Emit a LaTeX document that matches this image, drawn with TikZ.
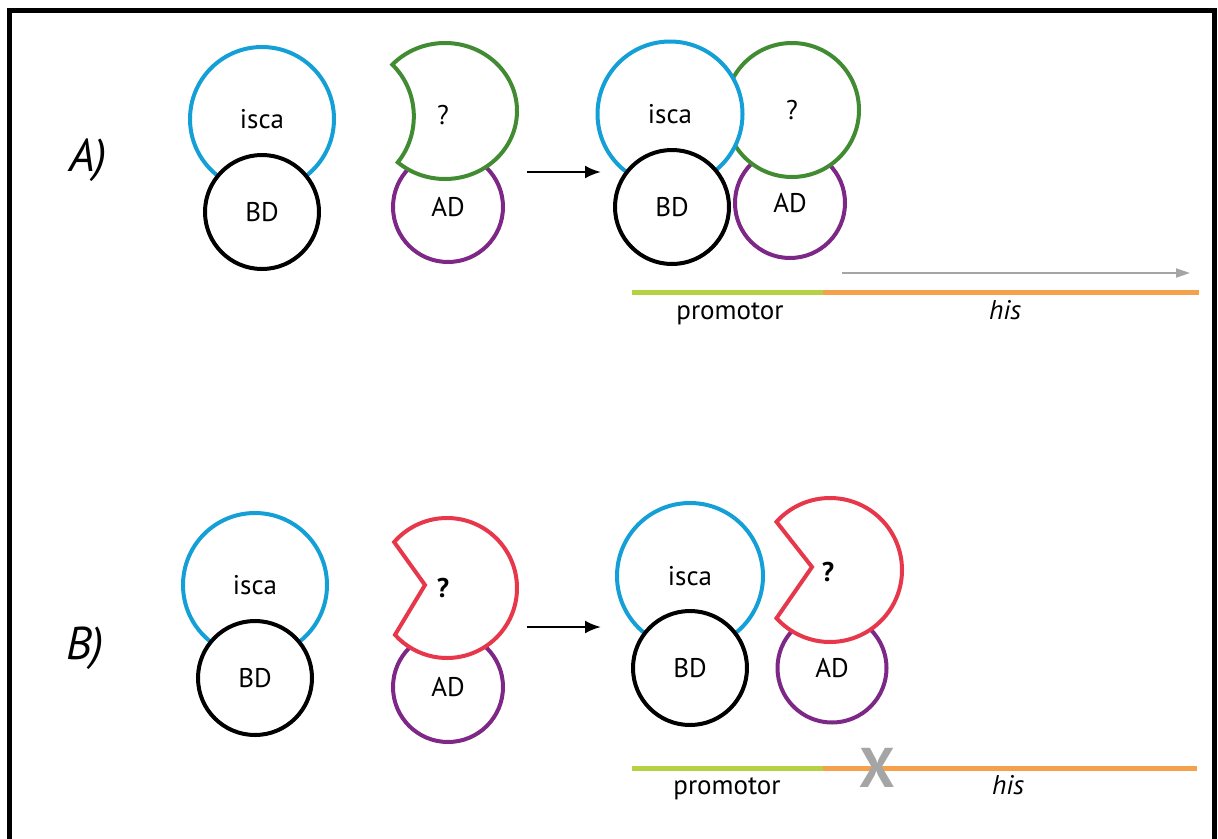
\documentclass[tikz,border=0pt]{standalone}
\usepackage{fontspec}
\setmainfont{PT Sans}
\usepackage{tikz}
\usetikzlibrary{arrows.meta,calc}

\definecolor{iscablue}{RGB}{20,160,215}
\definecolor{bindgreen}{RGB}{65,140,50}
\definecolor{nobindred}{RGB}{230,55,75}
\definecolor{adpurple}{RGB}{125,40,135}
\definecolor{promgreen}{RGB}{180,210,65}
\definecolor{hisorange}{RGB}{245,160,75}
\definecolor{arrgray}{RGB}{165,165,165}

\begin{document}
\begin{tikzpicture}[x=1pt,y=-1pt,
  dom/.style={circle,draw,line width=4pt,fill=white,inner sep=0pt,font=\fontsize{27}{32}\selectfont},
  pac/.style={line width=4pt,fill=white,line join=miter},
  dna/.style={line width=5pt},
  lbl/.style={font=\fontsize{27}{32}\selectfont},
  qbold/.style={font=\fontsize{27}{32}\selectfont\bfseries},
  part/.style={font=\fontsize{46}{52}\selectfont\itshape},
  goarrow/.style={line width=2.5pt,-{Latex[length=16pt,width=13pt]}}]

\clip (0,0) rectangle (1218,838);

% frame round the figure (open at the bottom)
\draw[line width=5pt] (9.5,860) -- (9.5,10.5) -- (1214.5,10.5) -- (1214.5,860);

% ---------------- A) ----------------
\node[part] (partA) at (88,160) {A)};

% bait: isca on its binding domain
\node[dom,draw=iscablue,minimum size=144pt] (iscaA) at (262,119) {isca};
\node[dom,minimum size=114pt] (bdA) at (262,212) {BD};

% prey: unknown protein with a fitting pocket, on the activation domain
\node[dom,draw=adpurple,minimum size=110pt] (adA) at (448,207) {AD};
\coordinate (gA) at (445,111);
\draw[pac,draw=bindgreen] ($(gA)+(-137:72 and 68)$)
  arc[start angle=-137,end angle=131,x radius=72,y radius=68]
  .. controls (420,135) and (420,92) .. cycle;
\node[lbl] (qA) at (443,115) {?};

% reaction arrow
\coordinate (arA0) at (527,172);
\coordinate (arA1) at (601,172);
\draw[goarrow] (arA0) -- (arA1);

% complex: both halves bound
\node[dom,draw=adpurple,minimum size=110pt] (adA2) at (790,203) {AD};
\node[dom,draw=bindgreen,minimum size=134pt] (gA2) at (792,110) {?};
\node[dom,draw=iscablue,minimum size=145pt] (iscaA2) at (670,114) {isca};
\node[dom,minimum size=114pt] (bdA2) at (672,207) {BD};

% transcription runs
\coordinate (txA0) at (842,273);
\coordinate (txA1) at (1190,273);
\draw[arrgray,line width=2pt,-{Triangle[length=14pt,width=9pt]}] (txA0) -- (txA1);

% promotor + his gene
\coordinate (pA0) at (632,292);
\coordinate (pA1) at (823,292);
\coordinate (pA2) at (1199,292);
\draw[dna,promgreen] (pA0) -- (pA1);
\draw[dna,hisorange] (pA1) -- (pA2);
\node[lbl,anchor=base] (promA) at (730,319) {promotor};
\node[lbl,anchor=base] (hisA) at (1005,319) {\itshape his};

% ---------------- B) ----------------
\node[part] (partB) at (85,648) {B)};

% bait
\node[dom,draw=iscablue,minimum size=144pt] (iscaB) at (255,585) {isca};
\node[dom,minimum size=114pt] (bdB) at (255,678) {BD};

% prey with a pocket that does not fit
\node[dom,draw=adpurple,minimum size=110pt] (adB) at (448,687) {AD};
\coordinate (rB) at (447,588);
\draw[pac,draw=nobindred] ($(rB)+(-139:70)$) arc[start angle=-139,end angle=138,radius=70]
  -- (425,585) -- cycle;
\node[qbold] (qB) at (443,588) {?};

% reaction arrow
\coordinate (arB0) at (527,627);
\coordinate (arB1) at (601,627);
\draw[goarrow] (arB0) -- (arB1);

% no complex
\node[dom,draw=iscablue,minimum size=146pt] (iscaB2) at (690,576) {isca};
\node[dom,minimum size=114pt] (bdB2) at (690,668) {BD};
\node[dom,draw=adpurple,minimum size=109pt] (adB2) at (832,668) {AD};
\coordinate (rB2) at (830,570);
\draw[pac,draw=nobindred] ($(rB2)+(-138:72)$) arc[start angle=-138,end angle=138,radius=72]
  -- (812,567) -- cycle;
\node[qbold] (qB2) at (828,572) {?};

% promotor + his gene, no transcription
\coordinate (pB0) at (632,768);
\coordinate (pB1) at (823,768);
\coordinate (pB2) at (1197,768);
\draw[dna,promgreen] (pB0) -- (pB1);
\draw[dna,hisorange] (pB1) -- (pB2);
\node[arrgray,font=\fontsize{56}{60}\selectfont\bfseries] (noB) at (877,768) {X};
\node[lbl,anchor=base] (promB) at (727,794) {promotor};
\node[lbl,anchor=base] (hisB) at (1008,794) {\itshape his};

\end{tikzpicture}
\end{document}
